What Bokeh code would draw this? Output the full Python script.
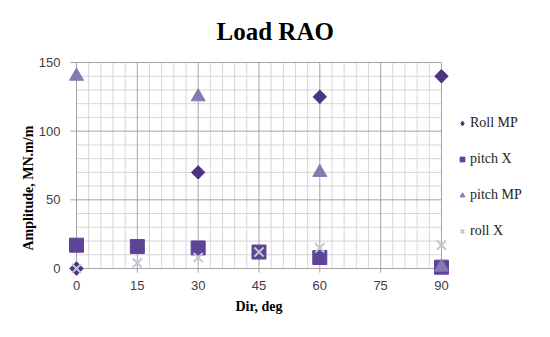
import math
from bokeh.plotting import figure
from bokeh.models import Legend, LegendItem, FixedTicker, Range1d, Title
from bokeh.embed import file_html
from bokeh.resources import INLINE

# data
roll_mp_x = [0, 30, 60, 90]
roll_mp_y = [0, 70, 125, 140]
pitch_x_x = [0, 15, 30, 45, 60, 90]
pitch_x_y = [17, 16, 15, 12, 8, 1]
pitch_mp_x = [0, 30, 60, 90]
pitch_mp_y = [140, 125, 70, 1]
roll_x_x = [0, 15, 30, 45, 60, 90]
roll_x_y = [0, 4, 8, 12, 15, 17]
x_ticks = [0, 15, 30, 45, 60, 75, 90]
y_ticks = [0, 50, 100, 150]
x_minor = list(range(0, 91, 3))
y_minor = list(range(0, 151, 10))

X0, X1 = 0, 90
Y0, Y1 = 0, 150

p = figure(width=534, height=321, output_backend="svg", toolbar_location=None,
           x_range=Range1d(-2.47, 112.7), y_range=Range1d(-5.8, 155.8),
           min_border_left=66, min_border_right=1, min_border_top=54, min_border_bottom=45)
p.border_fill_color = "white"
p.outline_line_color = None
p.grid.visible = False

p.title.text = "Load RAO"
p.title.text_font = "Liberation Serif"
p.title.text_font_size = "25px"
p.title.align = "left"
p.title.offset = 150
p.title.standoff = 19
p.title.text_color = "#000000"

xlab = Title(text="Dir, deg", align="left", offset=169, text_font="Liberation Serif",
             text_font_style="bold", text_font_size="14px", text_color="#000000", standoff=9)
p.add_layout(xlab, "below")
ylab = Title(text="Amplitude, MN.m/m", align="left", offset=26, text_font="Liberation Serif",
             text_font_style="bold", text_font_size="14px", text_color="#000000", standoff=0)
p.add_layout(ylab, "left")

p.xaxis.ticker = FixedTicker(ticks=x_ticks)
p.yaxis.ticker = FixedTicker(ticks=y_ticks)
for ax in (p.xaxis[0], p.yaxis[0]):
    ax.axis_line_color = None
    ax.major_tick_line_color = None
    ax.minor_tick_line_color = None
    ax.major_tick_out = 0
    ax.major_tick_in = 0
    ax.major_label_text_font = "Liberation Sans"
    ax.major_label_text_font_size = "13px"
    ax.major_label_text_color = "#404040"
    ax.major_label_standoff = 4
p.yaxis.major_label_standoff = 6
p.yaxis.major_label_orientation = "horizontal"

# grid drawn within data area
minor_v = [v for v in x_minor if v not in x_ticks]
minor_h = [v for v in y_minor if v not in y_ticks]
p.segment(x0=minor_v, y0=[Y0]*len(minor_v), x1=minor_v, y1=[Y1]*len(minor_v), line_color="#D6D6D6", line_width=1)
p.segment(x0=[X0]*len(minor_h), y0=minor_h, x1=[X1]*len(minor_h), y1=minor_h, line_color="#D6D6D6", line_width=1)
p.segment(x0=x_ticks, y0=[Y0 - 3]*len(x_ticks), x1=x_ticks, y1=[Y1]*len(x_ticks), line_color="#A4A4A4", line_width=1)
p.segment(x0=[X0 - 1.5]*len(y_ticks), y0=y_ticks, x1=[X1]*len(y_ticks), y1=y_ticks, line_color="#A4A4A4", line_width=1)

r1_leg = p.scatter(roll_mp_x, roll_mp_y, marker="diamond", size=13, fill_color="#4B3480", line_color="#4B3480")
r1 = p.scatter(roll_mp_x, roll_mp_y, marker="square", angle=math.pi / 4, size=9.5,
               fill_color="#4B3480", line_color="#4B3480")
r2 = p.scatter(pitch_x_x, pitch_x_y, marker="square", size=14, fill_color="#5E4496", line_color="#5E4496")
r3 = p.scatter(pitch_mp_x, pitch_mp_y, marker="triangle", size=14, fill_color="#8A78B0", line_color="#8A78B0")
r4 = p.scatter(roll_x_x, roll_x_y, marker="x", size=13, line_color="#C8C4D4", line_width=2)

legend = Legend(items=[LegendItem(label="Roll MP", renderers=[r1_leg]),
                       LegendItem(label="pitch X", renderers=[r2]),
                       LegendItem(label="pitch MP", renderers=[r3]),
                       LegendItem(label="roll X", renderers=[r4])],
                location=(390, 37), border_line_color=None, background_fill_alpha=0,
                label_text_font="Liberation Serif", label_text_font_size="14px", label_text_color="#222222",
                label_height=12, glyph_width=12, glyph_height=12, spacing=20, padding=0, label_standoff=2,
                margin=0)
p.add_layout(legend, "center")

open("out.html", "w").write(file_html(p, INLINE))
